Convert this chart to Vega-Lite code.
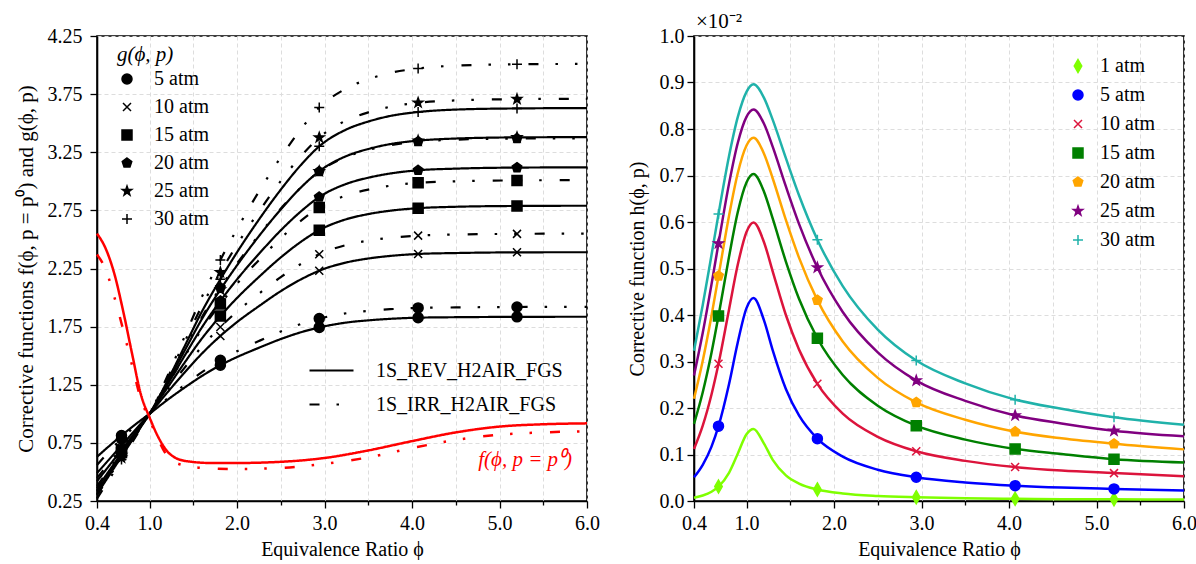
{
"$schema": "https://vega.github.io/schema/vega-lite/v6.json",
"background": "white",
"padding": {"left": 14, "top": 10, "right": 2, "bottom": 0},
"spacing": 25,
"resolve": {
  "scale": {"shape": "independent", "color": "independent", "fill": "independent", "stroke": "independent", "strokeDash": "independent"},
  "legend": {"shape": "independent", "color": "independent", "fill": "independent", "stroke": "independent", "strokeDash": "independent"}
},
"config": {
  "font": "Liberation Serif",
  "view": {"stroke": "black", "strokeWidth": 1.6},
  "axis": {"domainColor": "black", "domainWidth": 1.6, "tickColor": "black", "tickWidth": 1.3, "labelColor": "black", "labelFontSize": 20, "titleFontSize": 20, "titleFontWeight": "normal", "titleColor": "black", "gridColor": "#dddddd", "gridDash": [4, 3], "gridWidth": 1, "labelFont": "Liberation Serif", "titleFont": "Liberation Serif", "labelFlush": false, "labelOverlap": false, "grid": true},
  "legend": {"labelFont": "Liberation Serif", "labelFontSize": 20, "titleFont": "Liberation Serif", "labelColor": "black", "padding": 0, "labelLimit": 400},
  "title": {"font": "Liberation Serif", "fontSize": 20, "fontWeight": "normal", "color": "black"}
},
"datasets": {
"L": [
{"t":"g","p":"5 atm","m":"REV","x":0.4,"y":0.63},{"t":"g","p":"5 atm","m":"REV","x":0.5,"y":0.697},{"t":"g","p":"5 atm","m":"REV","x":0.6,"y":0.762},{"t":"g","p":"5 atm","m":"REV","x":0.68,"y":0.813},{"t":"g","p":"5 atm","m":"REV","x":0.8,"y":0.886},{"t":"g","p":"5 atm","m":"REV","x":0.9,"y":0.944},{"t":"g","p":"5 atm","m":"REV","x":1.0,"y":1.0},{"t":"g","p":"5 atm","m":"REV","x":1.2,"y":1.117},{"t":"g","p":"5 atm","m":"REV","x":1.4,"y":1.225},{"t":"g","p":"5 atm","m":"REV","x":1.6,"y":1.326},{"t":"g","p":"5 atm","m":"REV","x":1.81,"y":1.418},{"t":"g","p":"5 atm","m":"REV","x":2.0,"y":1.488},{"t":"g","p":"5 atm","m":"REV","x":2.25,"y":1.568},{"t":"g","p":"5 atm","m":"REV","x":2.5,"y":1.643},{"t":"g","p":"5 atm","m":"REV","x":2.75,"y":1.706},{"t":"g","p":"5 atm","m":"REV","x":2.94,"y":1.743},{"t":"g","p":"5 atm","m":"REV","x":3.25,"y":1.785},{"t":"g","p":"5 atm","m":"REV","x":3.5,"y":1.804},{"t":"g","p":"5 atm","m":"REV","x":3.75,"y":1.817},{"t":"g","p":"5 atm","m":"REV","x":4.07,"y":1.827},{"t":"g","p":"5 atm","m":"REV","x":4.5,"y":1.831},{"t":"g","p":"5 atm","m":"REV","x":5.2,"y":1.834},{"t":"g","p":"5 atm","m":"REV","x":6.0,"y":1.835},
{"t":"g","p":"5 atm","m":"IRR","x":0.4,"y":0.56},{"t":"g","p":"5 atm","m":"IRR","x":0.5,"y":0.645},{"t":"g","p":"5 atm","m":"IRR","x":0.6,"y":0.725},{"t":"g","p":"5 atm","m":"IRR","x":0.68,"y":0.785},{"t":"g","p":"5 atm","m":"IRR","x":0.8,"y":0.871},{"t":"g","p":"5 atm","m":"IRR","x":0.9,"y":0.938},{"t":"g","p":"5 atm","m":"IRR","x":1.0,"y":1.0},{"t":"g","p":"5 atm","m":"IRR","x":1.2,"y":1.129},{"t":"g","p":"5 atm","m":"IRR","x":1.4,"y":1.248},{"t":"g","p":"5 atm","m":"IRR","x":1.6,"y":1.359},{"t":"g","p":"5 atm","m":"IRR","x":1.81,"y":1.46},{"t":"g","p":"5 atm","m":"IRR","x":2.0,"y":1.538},{"t":"g","p":"5 atm","m":"IRR","x":2.25,"y":1.626},{"t":"g","p":"5 atm","m":"IRR","x":2.5,"y":1.708},{"t":"g","p":"5 atm","m":"IRR","x":2.75,"y":1.777},{"t":"g","p":"5 atm","m":"IRR","x":2.94,"y":1.819},{"t":"g","p":"5 atm","m":"IRR","x":3.25,"y":1.865},{"t":"g","p":"5 atm","m":"IRR","x":3.5,"y":1.886},{"t":"g","p":"5 atm","m":"IRR","x":3.75,"y":1.9},{"t":"g","p":"5 atm","m":"IRR","x":4.07,"y":1.911},{"t":"g","p":"5 atm","m":"IRR","x":4.5,"y":1.915},{"t":"g","p":"5 atm","m":"IRR","x":5.2,"y":1.919},{"t":"g","p":"5 atm","m":"IRR","x":6.0,"y":1.92},
{"t":"g","p":"10 atm","m":"REV","x":0.4,"y":0.49},{"t":"g","p":"10 atm","m":"REV","x":0.5,"y":0.575},{"t":"g","p":"10 atm","m":"REV","x":0.6,"y":0.66},{"t":"g","p":"10 atm","m":"REV","x":0.68,"y":0.728},{"t":"g","p":"10 atm","m":"REV","x":0.8,"y":0.83},{"t":"g","p":"10 atm","m":"REV","x":0.9,"y":0.915},{"t":"g","p":"10 atm","m":"REV","x":1.0,"y":1.0},{"t":"g","p":"10 atm","m":"REV","x":1.2,"y":1.18},{"t":"g","p":"10 atm","m":"REV","x":1.4,"y":1.354},{"t":"g","p":"10 atm","m":"REV","x":1.6,"y":1.519},{"t":"g","p":"10 atm","m":"REV","x":1.81,"y":1.67},{"t":"g","p":"10 atm","m":"REV","x":2.0,"y":1.789},{"t":"g","p":"10 atm","m":"REV","x":2.25,"y":1.926},{"t":"g","p":"10 atm","m":"REV","x":2.5,"y":2.055},{"t":"g","p":"10 atm","m":"REV","x":2.75,"y":2.164},{"t":"g","p":"10 atm","m":"REV","x":2.94,"y":2.231},{"t":"g","p":"10 atm","m":"REV","x":3.25,"y":2.302},{"t":"g","p":"10 atm","m":"REV","x":3.5,"y":2.336},{"t":"g","p":"10 atm","m":"REV","x":3.75,"y":2.358},{"t":"g","p":"10 atm","m":"REV","x":4.07,"y":2.375},{"t":"g","p":"10 atm","m":"REV","x":4.5,"y":2.383},{"t":"g","p":"10 atm","m":"REV","x":5.2,"y":2.389},{"t":"g","p":"10 atm","m":"REV","x":6.0,"y":2.39},
{"t":"g","p":"10 atm","m":"IRR","x":0.4,"y":0.448},{"t":"g","p":"10 atm","m":"IRR","x":0.5,"y":0.54},{"t":"g","p":"10 atm","m":"IRR","x":0.6,"y":0.632},{"t":"g","p":"10 atm","m":"IRR","x":0.68,"y":0.706},{"t":"g","p":"10 atm","m":"IRR","x":0.8,"y":0.816},{"t":"g","p":"10 atm","m":"IRR","x":0.9,"y":0.908},{"t":"g","p":"10 atm","m":"IRR","x":1.0,"y":1.0},{"t":"g","p":"10 atm","m":"IRR","x":1.2,"y":1.201},{"t":"g","p":"10 atm","m":"IRR","x":1.4,"y":1.395},{"t":"g","p":"10 atm","m":"IRR","x":1.6,"y":1.579},{"t":"g","p":"10 atm","m":"IRR","x":1.81,"y":1.747},{"t":"g","p":"10 atm","m":"IRR","x":2.0,"y":1.88},{"t":"g","p":"10 atm","m":"IRR","x":2.25,"y":2.033},{"t":"g","p":"10 atm","m":"IRR","x":2.5,"y":2.176},{"t":"g","p":"10 atm","m":"IRR","x":2.75,"y":2.298},{"t":"g","p":"10 atm","m":"IRR","x":2.94,"y":2.373},{"t":"g","p":"10 atm","m":"IRR","x":3.25,"y":2.452},{"t":"g","p":"10 atm","m":"IRR","x":3.5,"y":2.49},{"t":"g","p":"10 atm","m":"IRR","x":3.75,"y":2.514},{"t":"g","p":"10 atm","m":"IRR","x":4.07,"y":2.533},{"t":"g","p":"10 atm","m":"IRR","x":4.5,"y":2.542},{"t":"g","p":"10 atm","m":"IRR","x":5.2,"y":2.548},{"t":"g","p":"10 atm","m":"IRR","x":6.0,"y":2.55},
{"t":"g","p":"15 atm","m":"REV","x":0.4,"y":0.42},{"t":"g","p":"15 atm","m":"REV","x":0.5,"y":0.516},{"t":"g","p":"15 atm","m":"REV","x":0.6,"y":0.612},{"t":"g","p":"15 atm","m":"REV","x":0.68,"y":0.689},{"t":"g","p":"15 atm","m":"REV","x":0.8,"y":0.805},{"t":"g","p":"15 atm","m":"REV","x":0.9,"y":0.902},{"t":"g","p":"15 atm","m":"REV","x":1.0,"y":1.0},{"t":"g","p":"15 atm","m":"REV","x":1.2,"y":1.219},{"t":"g","p":"15 atm","m":"REV","x":1.4,"y":1.439},{"t":"g","p":"15 atm","m":"REV","x":1.6,"y":1.649},{"t":"g","p":"15 atm","m":"REV","x":1.81,"y":1.841},{"t":"g","p":"15 atm","m":"REV","x":2.0,"y":1.996},{"t":"g","p":"15 atm","m":"REV","x":2.25,"y":2.177},{"t":"g","p":"15 atm","m":"REV","x":2.5,"y":2.345},{"t":"g","p":"15 atm","m":"REV","x":2.75,"y":2.49},{"t":"g","p":"15 atm","m":"REV","x":2.94,"y":2.58},{"t":"g","p":"15 atm","m":"REV","x":3.25,"y":2.674},{"t":"g","p":"15 atm","m":"REV","x":3.5,"y":2.718},{"t":"g","p":"15 atm","m":"REV","x":3.75,"y":2.747},{"t":"g","p":"15 atm","m":"REV","x":4.07,"y":2.769},{"t":"g","p":"15 atm","m":"REV","x":4.5,"y":2.781},{"t":"g","p":"15 atm","m":"REV","x":5.2,"y":2.788},{"t":"g","p":"15 atm","m":"REV","x":6.0,"y":2.79},
{"t":"g","p":"15 atm","m":"IRR","x":0.4,"y":0.38},{"t":"g","p":"15 atm","m":"IRR","x":0.5,"y":0.482},{"t":"g","p":"15 atm","m":"IRR","x":0.6,"y":0.585},{"t":"g","p":"15 atm","m":"IRR","x":0.68,"y":0.667},{"t":"g","p":"15 atm","m":"IRR","x":0.8,"y":0.791},{"t":"g","p":"15 atm","m":"IRR","x":0.9,"y":0.895},{"t":"g","p":"15 atm","m":"IRR","x":1.0,"y":1.0},{"t":"g","p":"15 atm","m":"IRR","x":1.2,"y":1.246},{"t":"g","p":"15 atm","m":"IRR","x":1.4,"y":1.492},{"t":"g","p":"15 atm","m":"IRR","x":1.6,"y":1.729},{"t":"g","p":"15 atm","m":"IRR","x":1.81,"y":1.945},{"t":"g","p":"15 atm","m":"IRR","x":2.0,"y":2.119},{"t":"g","p":"15 atm","m":"IRR","x":2.25,"y":2.322},{"t":"g","p":"15 atm","m":"IRR","x":2.5,"y":2.511},{"t":"g","p":"15 atm","m":"IRR","x":2.75,"y":2.673},{"t":"g","p":"15 atm","m":"IRR","x":2.94,"y":2.774},{"t":"g","p":"15 atm","m":"IRR","x":3.25,"y":2.879},{"t":"g","p":"15 atm","m":"IRR","x":3.5,"y":2.929},{"t":"g","p":"15 atm","m":"IRR","x":3.75,"y":2.962},{"t":"g","p":"15 atm","m":"IRR","x":4.07,"y":2.987},{"t":"g","p":"15 atm","m":"IRR","x":4.5,"y":3.0},{"t":"g","p":"15 atm","m":"IRR","x":5.2,"y":3.008},{"t":"g","p":"15 atm","m":"IRR","x":6.0,"y":3.01},
{"t":"g","p":"20 atm","m":"REV","x":0.4,"y":0.36},{"t":"g","p":"20 atm","m":"REV","x":0.5,"y":0.468},{"t":"g","p":"20 atm","m":"REV","x":0.6,"y":0.576},{"t":"g","p":"20 atm","m":"REV","x":0.68,"y":0.661},{"t":"g","p":"20 atm","m":"REV","x":0.8,"y":0.789},{"t":"g","p":"20 atm","m":"REV","x":0.9,"y":0.895},{"t":"g","p":"20 atm","m":"REV","x":1.0,"y":1.0},{"t":"g","p":"20 atm","m":"REV","x":1.2,"y":1.245},{"t":"g","p":"20 atm","m":"REV","x":1.4,"y":1.498},{"t":"g","p":"20 atm","m":"REV","x":1.6,"y":1.745},{"t":"g","p":"20 atm","m":"REV","x":1.81,"y":1.971},{"t":"g","p":"20 atm","m":"REV","x":2.0,"y":2.156},{"t":"g","p":"20 atm","m":"REV","x":2.25,"y":2.375},{"t":"g","p":"20 atm","m":"REV","x":2.5,"y":2.578},{"t":"g","p":"20 atm","m":"REV","x":2.75,"y":2.754},{"t":"g","p":"20 atm","m":"REV","x":2.94,"y":2.865},{"t":"g","p":"20 atm","m":"REV","x":3.25,"y":2.978},{"t":"g","p":"20 atm","m":"REV","x":3.5,"y":3.031},{"t":"g","p":"20 atm","m":"REV","x":3.75,"y":3.067},{"t":"g","p":"20 atm","m":"REV","x":4.07,"y":3.095},{"t":"g","p":"20 atm","m":"REV","x":4.5,"y":3.109},{"t":"g","p":"20 atm","m":"REV","x":5.2,"y":3.118},{"t":"g","p":"20 atm","m":"REV","x":6.0,"y":3.12},
{"t":"g","p":"20 atm","m":"IRR","x":0.4,"y":0.34},{"t":"g","p":"20 atm","m":"IRR","x":0.5,"y":0.448},{"t":"g","p":"20 atm","m":"IRR","x":0.6,"y":0.557},{"t":"g","p":"20 atm","m":"IRR","x":0.68,"y":0.645},{"t":"g","p":"20 atm","m":"IRR","x":0.8,"y":0.777},{"t":"g","p":"20 atm","m":"IRR","x":0.9,"y":0.888},{"t":"g","p":"20 atm","m":"IRR","x":1.0,"y":1.0},{"t":"g","p":"20 atm","m":"IRR","x":1.2,"y":1.274},{"t":"g","p":"20 atm","m":"IRR","x":1.4,"y":1.557},{"t":"g","p":"20 atm","m":"IRR","x":1.6,"y":1.833},{"t":"g","p":"20 atm","m":"IRR","x":1.81,"y":2.085},{"t":"g","p":"20 atm","m":"IRR","x":2.0,"y":2.292},{"t":"g","p":"20 atm","m":"IRR","x":2.25,"y":2.537},{"t":"g","p":"20 atm","m":"IRR","x":2.5,"y":2.764},{"t":"g","p":"20 atm","m":"IRR","x":2.75,"y":2.961},{"t":"g","p":"20 atm","m":"IRR","x":2.94,"y":3.084},{"t":"g","p":"20 atm","m":"IRR","x":3.25,"y":3.211},{"t":"g","p":"20 atm","m":"IRR","x":3.5,"y":3.27},{"t":"g","p":"20 atm","m":"IRR","x":3.75,"y":3.311},{"t":"g","p":"20 atm","m":"IRR","x":4.07,"y":3.342},{"t":"g","p":"20 atm","m":"IRR","x":4.5,"y":3.358},{"t":"g","p":"20 atm","m":"IRR","x":5.2,"y":3.368},{"t":"g","p":"20 atm","m":"IRR","x":6.0,"y":3.37},
{"t":"g","p":"25 atm","m":"REV","x":0.4,"y":0.33},{"t":"g","p":"25 atm","m":"REV","x":0.5,"y":0.443},{"t":"g","p":"25 atm","m":"REV","x":0.6,"y":0.556},{"t":"g","p":"25 atm","m":"REV","x":0.68,"y":0.645},{"t":"g","p":"25 atm","m":"REV","x":0.8,"y":0.779},{"t":"g","p":"25 atm","m":"REV","x":0.9,"y":0.89},{"t":"g","p":"25 atm","m":"REV","x":1.0,"y":1.0},{"t":"g","p":"25 atm","m":"REV","x":1.2,"y":1.263},{"t":"g","p":"25 atm","m":"REV","x":1.4,"y":1.541},{"t":"g","p":"25 atm","m":"REV","x":1.6,"y":1.817},{"t":"g","p":"25 atm","m":"REV","x":1.81,"y":2.069},{"t":"g","p":"25 atm","m":"REV","x":2.0,"y":2.277},{"t":"g","p":"25 atm","m":"REV","x":2.25,"y":2.528},{"t":"g","p":"25 atm","m":"REV","x":2.5,"y":2.758},{"t":"g","p":"25 atm","m":"REV","x":2.75,"y":2.961},{"t":"g","p":"25 atm","m":"REV","x":2.94,"y":3.087},{"t":"g","p":"25 atm","m":"REV","x":3.25,"y":3.217},{"t":"g","p":"25 atm","m":"REV","x":3.5,"y":3.278},{"t":"g","p":"25 atm","m":"REV","x":3.75,"y":3.32},{"t":"g","p":"25 atm","m":"REV","x":4.07,"y":3.35},{"t":"g","p":"25 atm","m":"REV","x":4.5,"y":3.368},{"t":"g","p":"25 atm","m":"REV","x":5.2,"y":3.378},{"t":"g","p":"25 atm","m":"REV","x":6.0,"y":3.38},
{"t":"g","p":"25 atm","m":"IRR","x":0.4,"y":0.3},{"t":"g","p":"25 atm","m":"IRR","x":0.5,"y":0.414},{"t":"g","p":"25 atm","m":"IRR","x":0.6,"y":0.529},{"t":"g","p":"25 atm","m":"IRR","x":0.68,"y":0.622},{"t":"g","p":"25 atm","m":"IRR","x":0.8,"y":0.762},{"t":"g","p":"25 atm","m":"IRR","x":0.9,"y":0.881},{"t":"g","p":"25 atm","m":"IRR","x":1.0,"y":1.0},{"t":"g","p":"25 atm","m":"IRR","x":1.2,"y":1.299},{"t":"g","p":"25 atm","m":"IRR","x":1.4,"y":1.617},{"t":"g","p":"25 atm","m":"IRR","x":1.6,"y":1.93},{"t":"g","p":"25 atm","m":"IRR","x":1.81,"y":2.217},{"t":"g","p":"25 atm","m":"IRR","x":2.0,"y":2.454},{"t":"g","p":"25 atm","m":"IRR","x":2.25,"y":2.739},{"t":"g","p":"25 atm","m":"IRR","x":2.5,"y":3.002},{"t":"g","p":"25 atm","m":"IRR","x":2.75,"y":3.233},{"t":"g","p":"25 atm","m":"IRR","x":2.94,"y":3.377},{"t":"g","p":"25 atm","m":"IRR","x":3.25,"y":3.524},{"t":"g","p":"25 atm","m":"IRR","x":3.5,"y":3.593},{"t":"g","p":"25 atm","m":"IRR","x":3.75,"y":3.641},{"t":"g","p":"25 atm","m":"IRR","x":4.07,"y":3.676},{"t":"g","p":"25 atm","m":"IRR","x":4.5,"y":3.696},{"t":"g","p":"25 atm","m":"IRR","x":5.2,"y":3.707},{"t":"g","p":"25 atm","m":"IRR","x":6.0,"y":3.71},
{"t":"g","p":"30 atm","m":"REV","x":0.4,"y":0.31},{"t":"g","p":"30 atm","m":"REV","x":0.5,"y":0.425},{"t":"g","p":"30 atm","m":"REV","x":0.6,"y":0.54},{"t":"g","p":"30 atm","m":"REV","x":0.68,"y":0.632},{"t":"g","p":"30 atm","m":"REV","x":0.8,"y":0.77},{"t":"g","p":"30 atm","m":"REV","x":0.9,"y":0.885},{"t":"g","p":"30 atm","m":"REV","x":1.0,"y":1.0},{"t":"g","p":"30 atm","m":"REV","x":1.2,"y":1.276},{"t":"g","p":"30 atm","m":"REV","x":1.4,"y":1.579},{"t":"g","p":"30 atm","m":"REV","x":1.6,"y":1.881},{"t":"g","p":"30 atm","m":"REV","x":1.81,"y":2.157},{"t":"g","p":"30 atm","m":"REV","x":2.0,"y":2.389},{"t":"g","p":"30 atm","m":"REV","x":2.25,"y":2.67},{"t":"g","p":"30 atm","m":"REV","x":2.5,"y":2.928},{"t":"g","p":"30 atm","m":"REV","x":2.75,"y":3.157},{"t":"g","p":"30 atm","m":"REV","x":2.94,"y":3.301},{"t":"g","p":"30 atm","m":"REV","x":3.25,"y":3.446},{"t":"g","p":"30 atm","m":"REV","x":3.5,"y":3.514},{"t":"g","p":"30 atm","m":"REV","x":3.75,"y":3.562},{"t":"g","p":"30 atm","m":"REV","x":4.07,"y":3.596},{"t":"g","p":"30 atm","m":"REV","x":4.5,"y":3.617},{"t":"g","p":"30 atm","m":"REV","x":5.2,"y":3.627},{"t":"g","p":"30 atm","m":"REV","x":6.0,"y":3.63},
{"t":"g","p":"30 atm","m":"IRR","x":0.4,"y":0.27},{"t":"g","p":"30 atm","m":"IRR","x":0.5,"y":0.389},{"t":"g","p":"30 atm","m":"IRR","x":0.6,"y":0.509},{"t":"g","p":"30 atm","m":"IRR","x":0.68,"y":0.606},{"t":"g","p":"30 atm","m":"IRR","x":0.8,"y":0.752},{"t":"g","p":"30 atm","m":"IRR","x":0.9,"y":0.876},{"t":"g","p":"30 atm","m":"IRR","x":1.0,"y":1.0},{"t":"g","p":"30 atm","m":"IRR","x":1.2,"y":1.316},{"t":"g","p":"30 atm","m":"IRR","x":1.4,"y":1.662},{"t":"g","p":"30 atm","m":"IRR","x":1.6,"y":2.008},{"t":"g","p":"30 atm","m":"IRR","x":1.81,"y":2.324},{"t":"g","p":"30 atm","m":"IRR","x":2.0,"y":2.589},{"t":"g","p":"30 atm","m":"IRR","x":2.25,"y":2.911},{"t":"g","p":"30 atm","m":"IRR","x":2.5,"y":3.206},{"t":"g","p":"30 atm","m":"IRR","x":2.75,"y":3.468},{"t":"g","p":"30 atm","m":"IRR","x":2.94,"y":3.634},{"t":"g","p":"30 atm","m":"IRR","x":3.25,"y":3.799},{"t":"g","p":"30 atm","m":"IRR","x":3.5,"y":3.878},{"t":"g","p":"30 atm","m":"IRR","x":3.75,"y":3.932},{"t":"g","p":"30 atm","m":"IRR","x":4.07,"y":3.971},{"t":"g","p":"30 atm","m":"IRR","x":4.5,"y":3.995},{"t":"g","p":"30 atm","m":"IRR","x":5.2,"y":4.007},{"t":"g","p":"30 atm","m":"IRR","x":6.0,"y":4.01},
{"t":"f","p":"f","m":"REV","x":0.4,"y":2.55},{"t":"f","p":"f","m":"REV","x":0.5,"y":2.42},{"t":"f","p":"f","m":"REV","x":0.6,"y":2.2},{"t":"f","p":"f","m":"REV","x":0.7,"y":1.88},{"t":"f","p":"f","m":"REV","x":0.8,"y":1.52},{"t":"f","p":"f","m":"REV","x":0.9,"y":1.17},{"t":"f","p":"f","m":"REV","x":1.0,"y":0.97},{"t":"f","p":"f","m":"REV","x":1.1,"y":0.8},{"t":"f","p":"f","m":"REV","x":1.2,"y":0.68},{"t":"f","p":"f","m":"REV","x":1.3,"y":0.62},{"t":"f","p":"f","m":"REV","x":1.45,"y":0.59},{"t":"f","p":"f","m":"REV","x":1.7,"y":0.577},{"t":"f","p":"f","m":"REV","x":2.0,"y":0.577},{"t":"f","p":"f","m":"REV","x":2.5,"y":0.587},{"t":"f","p":"f","m":"REV","x":3.0,"y":0.62},{"t":"f","p":"f","m":"REV","x":3.5,"y":0.685},{"t":"f","p":"f","m":"REV","x":4.0,"y":0.765},{"t":"f","p":"f","m":"REV","x":4.5,"y":0.84},{"t":"f","p":"f","m":"REV","x":5.0,"y":0.89},{"t":"f","p":"f","m":"REV","x":5.5,"y":0.91},{"t":"f","p":"f","m":"REV","x":6.0,"y":0.918},
{"t":"f","p":"f","m":"IRR","x":0.4,"y":2.37},{"t":"f","p":"f","m":"IRR","x":0.5,"y":2.24},{"t":"f","p":"f","m":"IRR","x":0.6,"y":2.0},{"t":"f","p":"f","m":"IRR","x":0.7,"y":1.72},{"t":"f","p":"f","m":"IRR","x":0.8,"y":1.42},{"t":"f","p":"f","m":"IRR","x":0.9,"y":1.13},{"t":"f","p":"f","m":"IRR","x":1.0,"y":0.95},{"t":"f","p":"f","m":"IRR","x":1.1,"y":0.78},{"t":"f","p":"f","m":"IRR","x":1.2,"y":0.64},{"t":"f","p":"f","m":"IRR","x":1.3,"y":0.58},{"t":"f","p":"f","m":"IRR","x":1.45,"y":0.55},{"t":"f","p":"f","m":"IRR","x":1.7,"y":0.53},{"t":"f","p":"f","m":"IRR","x":2.0,"y":0.525},{"t":"f","p":"f","m":"IRR","x":2.5,"y":0.535},{"t":"f","p":"f","m":"IRR","x":3.0,"y":0.57},{"t":"f","p":"f","m":"IRR","x":3.5,"y":0.625},{"t":"f","p":"f","m":"IRR","x":4.0,"y":0.705},{"t":"f","p":"f","m":"IRR","x":4.5,"y":0.775},{"t":"f","p":"f","m":"IRR","x":5.0,"y":0.82},{"t":"f","p":"f","m":"IRR","x":5.5,"y":0.84},{"t":"f","p":"f","m":"IRR","x":6.0,"y":0.85}
],
"R": [
{"p":"1 atm","x":0.4,"y":0.007},{"p":"1 atm","x":0.5,"y":0.0118},{"p":"1 atm","x":0.6,"y":0.02},{"p":"1 atm","x":0.68,"y":0.031},{"p":"1 atm","x":0.8,"y":0.0607},{"p":"1 atm","x":0.9,"y":0.1017},{"p":"1 atm","x":1.0,"y":0.1435},{"p":"1 atm","x":1.08,"y":0.155},{"p":"1 atm","x":1.2,"y":0.1234},{"p":"1 atm","x":1.3,"y":0.0886},{"p":"1 atm","x":1.45,"y":0.0552},{"p":"1 atm","x":1.6,"y":0.0376},{"p":"1 atm","x":1.81,"y":0.0248},{"p":"1 atm","x":2.1,"y":0.0163},{"p":"1 atm","x":2.5,"y":0.0109},{"p":"1 atm","x":2.94,"y":0.0081},{"p":"1 atm","x":3.5,"y":0.0059},{"p":"1 atm","x":4.07,"y":0.0048},{"p":"1 atm","x":4.6,"y":0.004},{"p":"1 atm","x":5.2,"y":0.0035},{"p":"1 atm","x":6.0,"y":0.003},
{"p":"5 atm","x":0.4,"y":0.051},{"p":"5 atm","x":0.5,"y":0.0778},{"p":"5 atm","x":0.6,"y":0.117},{"p":"5 atm","x":0.68,"y":0.161},{"p":"5 atm","x":0.8,"y":0.2512},{"p":"5 atm","x":0.9,"y":0.341},{"p":"5 atm","x":1.0,"y":0.4148},{"p":"5 atm","x":1.08,"y":0.4365},{"p":"5 atm","x":1.2,"y":0.3885},{"p":"5 atm","x":1.3,"y":0.324},{"p":"5 atm","x":1.45,"y":0.241},{"p":"5 atm","x":1.6,"y":0.184},{"p":"5 atm","x":1.81,"y":0.134},{"p":"5 atm","x":2.1,"y":0.0953},{"p":"5 atm","x":2.5,"y":0.0673},{"p":"5 atm","x":2.94,"y":0.051},{"p":"5 atm","x":3.5,"y":0.0399},{"p":"5 atm","x":4.07,"y":0.033},{"p":"5 atm","x":4.6,"y":0.0289},{"p":"5 atm","x":5.2,"y":0.026},{"p":"5 atm","x":6.0,"y":0.0226},
{"p":"10 atm","x":0.4,"y":0.112},{"p":"10 atm","x":0.5,"y":0.162},{"p":"10 atm","x":0.6,"y":0.229},{"p":"10 atm","x":0.68,"y":0.295},{"p":"10 atm","x":0.8,"y":0.4115},{"p":"10 atm","x":0.9,"y":0.508},{"p":"10 atm","x":1.0,"y":0.5786},{"p":"10 atm","x":1.08,"y":0.599},{"p":"10 atm","x":1.2,"y":0.5565},{"p":"10 atm","x":1.3,"y":0.4935},{"p":"10 atm","x":1.45,"y":0.4},{"p":"10 atm","x":1.6,"y":0.326},{"p":"10 atm","x":1.81,"y":0.252},{"p":"10 atm","x":2.1,"y":0.188},{"p":"10 atm","x":2.5,"y":0.138},{"p":"10 atm","x":2.94,"y":0.107},{"p":"10 atm","x":3.5,"y":0.0863},{"p":"10 atm","x":4.07,"y":0.073},{"p":"10 atm","x":4.6,"y":0.0655},{"p":"10 atm","x":5.2,"y":0.06},{"p":"10 atm","x":6.0,"y":0.053},
{"p":"15 atm","x":0.4,"y":0.166},{"p":"15 atm","x":0.5,"y":0.234},{"p":"15 atm","x":0.6,"y":0.319},{"p":"15 atm","x":0.68,"y":0.398},{"p":"15 atm","x":0.8,"y":0.525},{"p":"15 atm","x":0.9,"y":0.621},{"p":"15 atm","x":1.0,"y":0.685},{"p":"15 atm","x":1.08,"y":0.703},{"p":"15 atm","x":1.2,"y":0.665},{"p":"15 atm","x":1.3,"y":0.607},{"p":"15 atm","x":1.45,"y":0.515},{"p":"15 atm","x":1.6,"y":0.435},{"p":"15 atm","x":1.81,"y":0.35},{"p":"15 atm","x":2.1,"y":0.271},{"p":"15 atm","x":2.5,"y":0.205},{"p":"15 atm","x":2.94,"y":0.162},{"p":"15 atm","x":3.5,"y":0.132},{"p":"15 atm","x":4.07,"y":0.112},{"p":"15 atm","x":4.6,"y":0.101},{"p":"15 atm","x":5.2,"y":0.09},{"p":"15 atm","x":6.0,"y":0.083},
{"p":"20 atm","x":0.4,"y":0.22},{"p":"20 atm","x":0.5,"y":0.3018},{"p":"20 atm","x":0.6,"y":0.3986},{"p":"20 atm","x":0.68,"y":0.484},{"p":"20 atm","x":0.8,"y":0.613},{"p":"20 atm","x":0.9,"y":0.7048},{"p":"20 atm","x":1.0,"y":0.7644},{"p":"20 atm","x":1.08,"y":0.781},{"p":"20 atm","x":1.2,"y":0.747},{"p":"20 atm","x":1.3,"y":0.6935},{"p":"20 atm","x":1.45,"y":0.6045},{"p":"20 atm","x":1.6,"y":0.5234},{"p":"20 atm","x":1.81,"y":0.432},{"p":"20 atm","x":2.1,"y":0.3429},{"p":"20 atm","x":2.5,"y":0.2647},{"p":"20 atm","x":2.94,"y":0.212},{"p":"20 atm","x":3.5,"y":0.1747},{"p":"20 atm","x":4.07,"y":0.149},{"p":"20 atm","x":4.6,"y":0.1347},{"p":"20 atm","x":5.2,"y":0.123},{"p":"20 atm","x":6.0,"y":0.111},
{"p":"25 atm","x":0.4,"y":0.27},{"p":"25 atm","x":0.5,"y":0.3618},{"p":"25 atm","x":0.6,"y":0.4659},{"p":"25 atm","x":0.68,"y":0.554},{"p":"25 atm","x":0.8,"y":0.682},{"p":"25 atm","x":0.9,"y":0.7698},{"p":"25 atm","x":1.0,"y":0.8262},{"p":"25 atm","x":1.08,"y":0.842},{"p":"25 atm","x":1.2,"y":0.8113},{"p":"25 atm","x":1.3,"y":0.7615},{"p":"25 atm","x":1.45,"y":0.6765},{"p":"25 atm","x":1.6,"y":0.596},{"p":"25 atm","x":1.81,"y":0.502},{"p":"25 atm","x":2.1,"y":0.4064},{"p":"25 atm","x":2.5,"y":0.3195},{"p":"25 atm","x":2.94,"y":0.259},{"p":"25 atm","x":3.5,"y":0.2153},{"p":"25 atm","x":4.07,"y":0.184},{"p":"25 atm","x":4.6,"y":0.1669},{"p":"25 atm","x":5.2,"y":0.151},{"p":"25 atm","x":6.0,"y":0.139},
{"p":"30 atm","x":0.4,"y":0.323},{"p":"30 atm","x":0.5,"y":0.4216},{"p":"30 atm","x":0.6,"y":0.5289},{"p":"30 atm","x":0.68,"y":0.617},{"p":"30 atm","x":0.8,"y":0.7414},{"p":"30 atm","x":0.9,"y":0.8254},{"p":"30 atm","x":1.0,"y":0.8799},{"p":"30 atm","x":1.08,"y":0.896},{"p":"30 atm","x":1.2,"y":0.8669},{"p":"30 atm","x":1.3,"y":0.8195},{"p":"30 atm","x":1.45,"y":0.7372},{"p":"30 atm","x":1.6,"y":0.6575},{"p":"30 atm","x":1.81,"y":0.562},{"p":"30 atm","x":2.1,"y":0.4621},{"p":"30 atm","x":2.5,"y":0.3685},{"p":"30 atm","x":2.94,"y":0.302},{"p":"30 atm","x":3.5,"y":0.2529},{"p":"30 atm","x":4.07,"y":0.218},{"p":"30 atm","x":4.6,"y":0.1983},{"p":"30 atm","x":5.2,"y":0.18},{"p":"30 atm","x":6.0,"y":0.164}
]
},
"hconcat": [
{
  "width": 490, "height": 465,
  "title": {"text": " ", "anchor": "start", "frame": "group", "offset": 4, "dy": 10, "fontSize": 21},
  "data": {"name": "L"},
  "layer": [
    {
      "transform": [{"filter": "datum.t == 'g'"}],
      "mark": {"type": "line", "color": "black", "strokeWidth": 2.2, "interpolate": "monotone"},
      "encoding": {
        "x": {"field": "x", "type": "quantitative", "scale": {"domain": [0.4, 6.0], "nice": false, "zero": false},
          "axis": {"title": "Equivalence Ratio ϕ", "values": [0.4, 1, 1.5, 2, 2.5, 3, 3.5, 4, 4.5, 5, 5.5, 6],
            "labelExpr": "(datum.value == 0.4 || abs(datum.value - round(datum.value)) < 0.001) ? format(datum.value, '.1f') : ''",
            "tickSize": {"condition": {"test": "datum.value == 0.4 || abs(datum.value - round(datum.value)) < 0.001", "value": 7}, "value": 4},
            "labelPadding": 5, "titlePadding": 6}},
        "y": {"field": "y", "type": "quantitative", "scale": {"domain": [0.25, 4.25], "nice": false, "zero": false},
          "axis": {"title": "Corrective functions f(ϕ, p = p⁰) and g(ϕ, p)", "titleFontSize": 21,
            "values": [0.25, 0.5, 0.75, 1, 1.25, 1.5, 1.75, 2, 2.25, 2.5, 2.75, 3, 3.25, 3.5, 3.75, 4, 4.25],
            "labelExpr": "abs((datum.value - 0.25) / 0.5 - round((datum.value - 0.25) / 0.5)) < 0.001 ? format(datum.value, '.2f') : ''",
            "tickSize": {"condition": {"test": "abs((datum.value - 0.25) / 0.5 - round((datum.value - 0.25) / 0.5)) < 0.001", "value": 7}, "value": 4},
            "labelPadding": 8, "titlePadding": 11}},
        "detail": [{"field": "p"}, {"field": "m"}],
        "strokeDash": {"field": "m", "type": "nominal",
          "scale": {"domain": ["REV", "IRR"], "range": [[1, 0], [10, 17, 2.5, 17, 2.5, 18]]},
          "legend": {"title": null, "orient": "none", "legendX": 211, "legendY": 311, "symbolType": "stroke", "symbolStrokeColor": "black", "symbolStrokeWidth": 2.2, "symbolSize": 1936, "labelFontSize": 20, "rowPadding": -15, "labelOffset": 21,
            "labelExpr": "datum.label == 'REV' ? '1S_REV_H2AIR_FGS' : '1S_IRR_H2AIR_FGS'",
            "encode": {"symbols": {"update": {"stroke": {"value": "black"}, "strokeWidth": {"value": 2.2}}}}}}
      }
    },
    {
      "transform": [{"filter": "datum.t == 'f'"}],
      "mark": {"type": "line", "color": "#ff0000", "strokeWidth": 2.5, "interpolate": "monotone"},
      "encoding": {
        "x": {"field": "x", "type": "quantitative"},
        "y": {"field": "y", "type": "quantitative"},
        "detail": {"field": "m"},
        "strokeDash": {"field": "m", "type": "nominal"}
      }
    },
    {
      "transform": [{"filter": "datum.t == 'g' && indexof([0.68, 1.81, 2.94, 4.07, 5.2], datum.x) >= 0"}],
      "mark": {"type": "point", "filled": true, "size": 100, "color": "black", "strokeWidth": 1.5, "opacity": 1},
      "encoding": {
        "x": {"field": "x", "type": "quantitative"},
        "y": {"field": "y", "type": "quantitative"},
        "stroke": {"field": "p", "type": "nominal",
          "scale": {"domain": ["5 atm", "10 atm", "15 atm", "20 atm", "25 atm", "30 atm"], "range": ["black", "black", "black", "black", "black", "black"]},
          "legend": {"title": "g(ϕ, p)", "titleFontStyle": "italic", "titleFontSize": 21, "titleFontWeight": "normal", "titleColor": "black", "titlePadding": 4, "orient": "none", "legendX": 20, "legendY": 8, "symbolSize": 100, "symbolStrokeWidth": 1.5, "labelFontSize": 20, "rowPadding": 8, "labelOffset": 17}},
        "shape": {"field": "p", "type": "nominal",
          "scale": {"domain": ["5 atm", "10 atm", "15 atm", "20 atm", "25 atm", "30 atm"],
            "range": ["circle", "M-0.8,-0.8L0.8,0.8M-0.8,0.8L0.8,-0.8", "square", "M0,-1L0.951,-0.309L0.588,0.809L-0.588,0.809L-0.951,-0.309Z", "M0,-1L0.235,-0.324L0.951,-0.309L0.38,0.124L0.588,0.809L0,0.4L-0.588,0.809L-0.38,0.124L-0.951,-0.309L-0.235,-0.324Z", "M-1,0L1,0M0,-1L0,1"]},
          "legend": {"title": "g(ϕ, p)", "titleFontStyle": "italic", "titleFontSize": 21, "titleFontWeight": "normal", "titleColor": "black", "titlePadding": 4, "orient": "none", "legendX": 20, "legendY": 8, "symbolSize": 100, "symbolStrokeWidth": 1.5, "labelFontSize": 20, "rowPadding": 8, "labelOffset": 17}}
      }
    },
    {
      "data": {"values": [{}]},
      "mark": {"type": "text", "align": "right", "baseline": "middle", "fontStyle": "italic", "fontSize": 21, "color": "#ff0000", "font": "Liberation Serif"},
      "encoding": {
        "x": {"datum": 5.83, "type": "quantitative"},
        "y": {"datum": 0.6, "type": "quantitative"},
        "text": {"value": "f(ϕ, p = p⁰)"}
      }
    }
  ]
},
{
  "width": 490, "height": 465,
  "title": {"text": "×10⁻²", "anchor": "start", "frame": "group", "dx": 2, "offset": 4, "dy": 10, "fontSize": 21},
  "data": {"name": "R"},
  "layer": [
    {
      "mark": {"type": "line", "strokeWidth": 2.5, "interpolate": "monotone"},
      "encoding": {
        "x": {"field": "x", "type": "quantitative", "scale": {"domain": [0.4, 6.0], "nice": false, "zero": false},
          "axis": {"title": "Equivalence Ratio ϕ", "values": [0.4, 1, 1.5, 2, 2.5, 3, 3.5, 4, 4.5, 5, 5.5, 6],
            "labelExpr": "(datum.value == 0.4 || abs(datum.value - round(datum.value)) < 0.001) ? format(datum.value, '.1f') : ''",
            "tickSize": {"condition": {"test": "datum.value == 0.4 || abs(datum.value - round(datum.value)) < 0.001", "value": 7}, "value": 4},
            "labelPadding": 5, "titlePadding": 6}},
        "y": {"field": "y", "type": "quantitative", "scale": {"domain": [0, 1.0], "nice": false, "zero": false},
          "axis": {"title": "Corrective function h(ϕ, p)",
            "values": [0, 0.05, 0.1, 0.15, 0.2, 0.25, 0.3, 0.35, 0.4, 0.45, 0.5, 0.55, 0.6, 0.65, 0.7, 0.75, 0.8, 0.85, 0.9, 0.95, 1.0],
            "labelExpr": "abs(datum.value * 10 - round(datum.value * 10)) < 0.001 ? format(datum.value, '.1f') : ''",
            "tickSize": {"condition": {"test": "abs(datum.value * 10 - round(datum.value * 10)) < 0.001", "value": 7}, "value": 4},
            "labelPadding": 3, "titlePadding": 12}},
        "color": {"field": "p", "type": "nominal",
          "scale": {"domain": ["30 atm", "25 atm", "20 atm", "15 atm", "10 atm", "5 atm", "1 atm"], "range": ["#20b2aa", "#800080", "#ffa500", "#008000", "#dc143c", "#0000ff", "#7fff00"]},
          "legend": null}
      }
    },
    {
      "transform": [{"filter": "indexof([0.68, 1.81, 2.94, 4.07, 5.2], datum.x) >= 0"}],
      "mark": {"type": "point", "filled": true, "size": 100, "strokeWidth": 1.5, "opacity": 1},
      "encoding": {
        "x": {"field": "x", "type": "quantitative"},
        "y": {"field": "y", "type": "quantitative"},
        "fill": {"field": "p", "type": "nominal",
          "scale": {"domain": ["1 atm", "5 atm", "10 atm", "15 atm", "20 atm", "25 atm", "30 atm"], "range": ["#7fff00", "#0000ff", "#dc143c", "#008000", "#ffa500", "#800080", "#20b2aa"]},
          "legend": {"title": null, "orient": "none", "legendX": 374, "legendY": 20, "symbolSize": 100, "symbolStrokeWidth": 1.5, "labelFontSize": 20, "rowPadding": 9, "labelOffset": 12}},
        "stroke": {"field": "p", "type": "nominal",
          "scale": {"domain": ["1 atm", "5 atm", "10 atm", "15 atm", "20 atm", "25 atm", "30 atm"], "range": ["#7fff00", "#0000ff", "#dc143c", "#008000", "#ffa500", "#800080", "#20b2aa"]},
          "legend": {"title": null, "orient": "none", "legendX": 374, "legendY": 20, "symbolSize": 100, "symbolStrokeWidth": 1.5, "labelFontSize": 20, "rowPadding": 9, "labelOffset": 12}},
        "shape": {"field": "p", "type": "nominal",
          "scale": {"domain": ["1 atm", "5 atm", "10 atm", "15 atm", "20 atm", "25 atm", "30 atm"],
            "range": ["M0,-1.3L0.75,0L0,1.3L-0.75,0Z", "circle", "M-0.8,-0.8L0.8,0.8M-0.8,0.8L0.8,-0.8", "square", "M0,-1L0.951,-0.309L0.588,0.809L-0.588,0.809L-0.951,-0.309Z", "M0,-1L0.235,-0.324L0.951,-0.309L0.38,0.124L0.588,0.809L0,0.4L-0.588,0.809L-0.38,0.124L-0.951,-0.309L-0.235,-0.324Z", "M-1,0L1,0M0,-1L0,1"]},
          "legend": {"title": null, "orient": "none", "legendX": 374, "legendY": 20, "symbolSize": 100, "symbolStrokeWidth": 1.5, "labelFontSize": 20, "rowPadding": 9, "labelOffset": 12}}
      }
    }
  ]
}
]
}
